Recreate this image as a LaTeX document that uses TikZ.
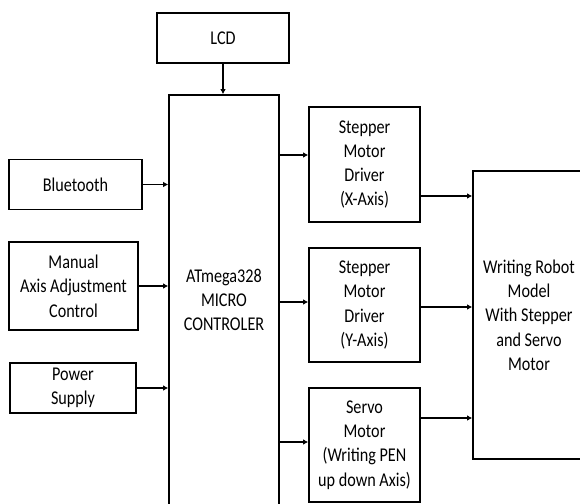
\documentclass[tikz,border=0pt]{standalone}
\usepackage{fontspec}
\setmainfont{Carlito}[FakeStretch=0.83]
\usetikzlibrary{arrows.meta}
\begin{document}
\begin{tikzpicture}[x=1pt,y=-1pt,
  blk/.style={draw,line width=1.6pt,rectangle,inner sep=0pt,align=center,
    font=\fontsize{19.5}{24.3}\selectfont},
  arr/.style={line width=1.6pt,-{Latex[length=5pt,width=5.5pt]}}]
\useasboundingbox (0,0) rectangle (580,503);
\clip (0,0) rectangle (580,503);
\fill[white] (0,0) rectangle (580,503);
\node[blk,minimum width=132pt,minimum height=50pt] (lcd) at (223,38) {LCD};
\node[blk,minimum width=110pt,minimum height=410pt] (mcu) at (224,300) {ATmega328\\MICRO\\CONTROLER};
\node[blk,minimum width=133pt,minimum height=50pt] (bt) at (75.5,184.5) {Bluetooth};
\node[blk,minimum width=129pt,minimum height=88pt] (man) at (73.5,286) {Manual\\Axis Adjustment\\Control};
\node[blk,minimum width=126pt,minimum height=50pt] (pow) at (73,388) {Power\\Supply};
\node[blk,minimum width=111pt,minimum height=115pt] (sx) at (364.5,164.5) {Stepper\\Motor\\Driver\\(X-Axis)};
\node[blk,minimum width=111pt,minimum height=114pt] (sy) at (364.5,305) {Stepper\\Motor\\Driver\\(Y-Axis)};
\node[blk,minimum width=111pt,minimum height=114pt] (sv) at (364.5,445) {Servo\\Motor\\(Writing PEN\\up down Axis)};
\node[blk,minimum width=112pt,minimum height=288pt] (rob) at (529,315) {Writing Robot\\Model\\With Stepper\\and Servo\\Motor};
\draw[arr] (lcd.south) -- (lcd.south |- mcu.north);
\draw[arr] (bt.east) -- (mcu.west |- bt.east);
\draw[arr] (man.east) -- (mcu.west |- man.east);
\draw[arr] (pow.east) -- (mcu.west |- pow.east);
\draw[arr] (mcu.east |- {(0,155)}) -- (sx.west |- {(0,155)});
\draw[arr] (mcu.east |- {(0,302)}) -- (sy.west |- {(0,302)});
\draw[arr] (mcu.east |- {(0,442)}) -- (sv.west |- {(0,442)});
\draw[arr] (sx.east |- {(0,196)}) -- (rob.west |- {(0,196)});
\draw[arr] (sy.east |- {(0,307)}) -- (rob.west |- {(0,307)});
\draw[arr] (sv.east |- {(0,418)}) -- (rob.west |- {(0,418)});
\end{tikzpicture}
\end{document}
